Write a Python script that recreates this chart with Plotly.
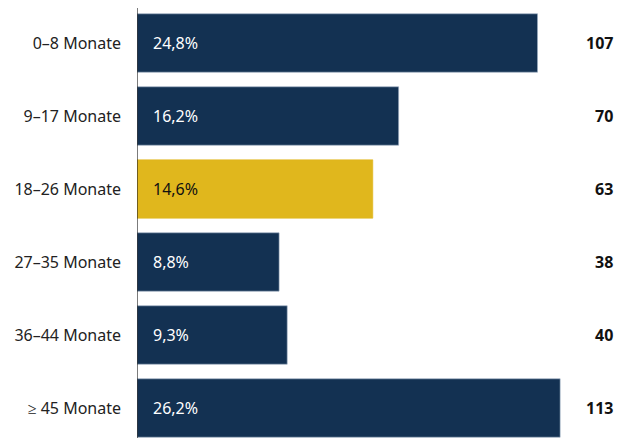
import plotly.graph_objects as go

categories = ["0–8 Monate", "9–17 Monate", "18–26 Monate", "27–35 Monate", "36–44 Monate", "≥ 45 Monate"]
percent = [24.8, 16.2, 14.6, 8.8, 9.3, 26.2]
counts = [107, 70, 63, 38, 40, 113]
highlight = [False, False, True, False, False, False]

NAVY = "#133152"
GOLD = "#E0B71D"
FONT = "Noto Sans"
FS = 16

colors = [GOLD if h else NAVY for h in highlight]
text_colors = ["#111111" if h else "#FFFFFF" for h in highlight]
line_colors = [GOLD if h else "#9FB0C4" for h in highlight]

fig = go.Figure()
fig.add_trace(go.Bar(
    y=categories, x=percent, orientation="h",
    marker=dict(color=colors, line=dict(color=line_colors, width=0.6)),
    width=0.8, hoverinfo="skip",
))

annotations = []
for c, p, n, tc in zip(categories, percent, counts, text_colors):
    annotations.append(dict(
        x=0, y=c, xref="x", yref="y", text=f"{p:.1f}%".replace(".", ","),
        xanchor="left", xshift=14, showarrow=False,
        font=dict(family=FONT, size=FS, color=tc),
    ))
    annotations.append(dict(
        x=1, y=c, xref="paper", yref="y", text=f"<b>{n}</b>",
        xanchor="right", xshift=-7, showarrow=False,
        font=dict(family=FONT, size=FS, color="#111111"),
    ))

fig.update_layout(
    width=614, height=430,
    margin=dict(l=129, r=0, t=0, b=0),
    paper_bgcolor="white", plot_bgcolor="white",
    showlegend=False,
    annotations=annotations,
    font=dict(family=FONT, size=FS, color="#222222"),
    shapes=[dict(type="line", xref="x", yref="paper", x0=0, x1=0,
                 y0=0, y1=1, line=dict(color="#222222", width=1.2))],
    xaxis=dict(range=[0, 30.03], visible=False, fixedrange=True),
    yaxis=dict(categoryorder="array", categoryarray=categories,
               range=[5.411, -0.4795], showline=False, showgrid=False,
               zeroline=False, ticks="", ticklabelstandoff=15,
               tickfont=dict(family=FONT, size=FS, color="#222222")),
)

fig.write_html("out.html")
